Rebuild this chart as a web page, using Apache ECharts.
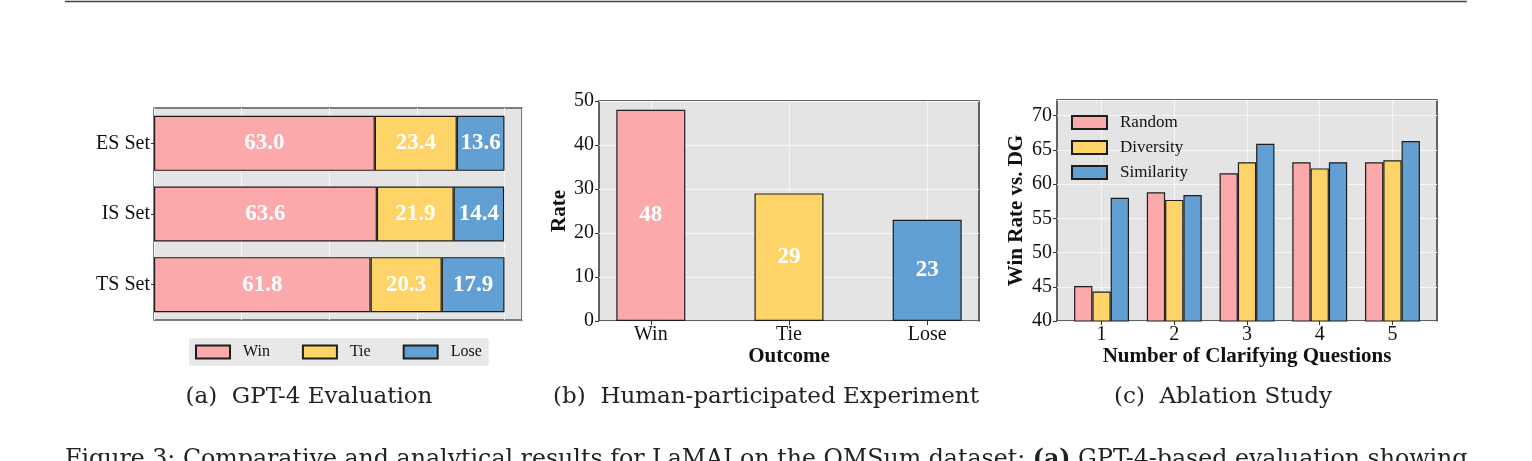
<!DOCTYPE html>
<html>
<head>
<meta charset="utf-8">
<script src="https://cdn.jsdelivr.net/npm/echarts@6/dist/echarts.min.js"></script>
<style>
  html, body { margin: 0; padding: 0; background: #fff; }
  #main { width: 1532px; height: 461px; }
</style>
</head>
<body>
<div id="main"></div>
<script type="text/javascript">
    // (a) GPT-4 evaluation
    var setNames = ['ES Set', 'IS Set', 'TS Set'];
    var winA = [63.0, 63.6, 61.8];
    var tieA = [23.4, 21.9, 20.3];
    var loseA = [13.6, 14.4, 17.9];
    // (b) human-participated experiment
    var outcomes = ['Win', 'Tie', 'Lose'];
    var humanRates = [48, 29, 23];
    // (c) ablation study
    var questionCounts = [1, 2, 3, 4, 5];
    var randomRates = [45.1, 58.8, 61.6, 63.2, 63.2];
    var diversityRates = [44.3, 57.7, 63.2, 62.3, 63.5];
    var similarityRates = [58.0, 58.4, 65.9, 63.2, 66.3];

    var PINK = '#fca9ac', YELLOW = '#fed469', BLUE = '#629fd2';
    var SERIF = '"Liberation Serif", "Times New Roman", serif';
    var CAP = '"DejaVu Serif", serif';
    var BG = '#e4e4e4';

    function pairs(xs, ys) {
        return xs.map(function (x, i) { return [x, ys[i]]; });
    }

    var tickLabel = { fontFamily: SERIF, fontSize: 20, color: '#111' };
    var nameStyle = { fontFamily: SERIF, fontSize: 21, fontWeight: 'bold', color: '#111' };
    var whiteSplit = { show: true, lineStyle: { color: '#f7f7f7', width: 1 } };
    var noLine = { show: false, onZero: false };
    var tick = { show: true, length: 4, lineStyle: { color: '#333' } };
    var barBorder = { borderColor: '#1e1e1e', borderWidth: 1.2 };
    var inLabel = { show: true, position: 'inside', color: '#fff', fontFamily: SERIF, fontWeight: 'bold', fontSize: 23 };

    function stackSeries(name, vals, color) {
        return {
            name: name, type: 'bar', stack: 'total', xAxisIndex: 0, yAxisIndex: 0,
            barWidth: 55, data: vals,
            itemStyle: Object.assign({ color: color }, barBorder),
            label: Object.assign({ formatter: function (p) { return p.value.toFixed(1); } }, inLabel)
        };
    }
    function groupSeries(name, vals, color) {
        return {
            name: name, type: 'bar', xAxisIndex: 2, yAxisIndex: 2,
            barWidth: 18.3, barGap: '0%', data: pairs(questionCounts, vals),
            itemStyle: Object.assign({ color: color }, barBorder)
        };
    }

    var chart = echarts.init(document.getElementById('main'), null, { renderer: 'canvas' });
    var option = {
        animation: false,
        grid: [
            { left: 154, top: 108, width: 368, height: 212, show: true, backgroundColor: BG, borderColor: '#555', borderWidth: 1.5 },
            { left: 599, top: 101, width: 380, height: 220, show: true, backgroundColor: BG, borderColor: '#333', borderWidth: 1.5 },
            { left: 1057, top: 100, width: 380, height: 221, show: true, backgroundColor: BG, borderColor: '#333', borderWidth: 1.5 }
        ],
        legend: [
            {
                data: outcomes, left: 189, top: 338, icon: 'rect', itemWidth: 34, itemHeight: 13, itemGap: 32,
                backgroundColor: '#e8e8e8', borderRadius: 3, padding: [6, 7, 6, 6],
                textStyle: { fontFamily: SERIF, fontSize: 16, color: '#111', padding: [0, 0, 0, 8] }
            },
            {
                data: ['Random', 'Diversity', 'Similarity'], orient: 'vertical', left: 1066, top: 109, icon: 'rect',
                itemWidth: 35, itemHeight: 13, itemGap: 8,
                textStyle: { fontFamily: SERIF, fontSize: 17, color: '#111', padding: [0, 0, 0, 8] }
            }
        ],
        xAxis: [
            {
                gridIndex: 0, type: 'value', min: 0, max: 105, interval: 25,
                axisLine: noLine, axisTick: { show: false }, axisLabel: { show: false },
                splitLine: whiteSplit
            },
            {
                gridIndex: 1, type: 'value', min: -0.375, max: 2.375,
                axisLine: noLine,
                axisTick: Object.assign({ customValues: [0, 1, 2] }, tick),
                axisLabel: Object.assign({ customValues: [0, 1, 2], margin: 4, formatter: function (v) { return outcomes[Math.round(v)]; } }, tickLabel),
                splitLine: whiteSplit,
                name: 'Outcome', nameLocation: 'middle', nameGap: 24, nameTextStyle: nameStyle
            },
            {
                gridIndex: 2, type: 'value', min: 0.3875, max: 5.6125,
                axisLine: noLine,
                axisTick: Object.assign({ customValues: questionCounts }, tick),
                axisLabel: Object.assign({ customValues: questionCounts, margin: 4, formatter: function (v) { return String(Math.round(v)); } }, tickLabel),
                splitLine: whiteSplit,
                name: 'Number of Clarifying Questions', nameLocation: 'middle', nameGap: 24, nameTextStyle: nameStyle
            }
        ],
        yAxis: [
            {
                gridIndex: 0, type: 'category', inverse: true, data: setNames,
                axisLine: noLine, axisTick: { show: true, length: 3, alignWithLabel: true, lineStyle: { color: '#333' } },
                axisLabel: Object.assign({ margin: 4 }, tickLabel),
                splitLine: { show: false }
            },
            {
                gridIndex: 1, type: 'value', min: 0, max: 50, interval: 10,
                axisLine: noLine, axisTick: tick,
                axisLabel: Object.assign({ margin: 5 }, tickLabel),
                splitLine: whiteSplit,
                name: 'Rate', nameLocation: 'middle', nameRotate: 90, nameGap: 29, nameTextStyle: nameStyle
            },
            {
                gridIndex: 2, type: 'value', min: 40, max: 72.3, interval: 5,
                axisLine: noLine, axisTick: tick,
                axisLabel: Object.assign({ margin: 5, showMaxLabel: false }, tickLabel),
                splitLine: whiteSplit,
                name: 'Win Rate vs. DG', nameLocation: 'middle', nameRotate: 90, nameGap: 30, nameTextStyle: nameStyle
            }
        ],
        series: [
            stackSeries('Win', winA, PINK),
            stackSeries('Tie', tieA, YELLOW),
            stackSeries('Lose', loseA, BLUE),
            {
                name: 'Rate', type: 'bar', xAxisIndex: 1, yAxisIndex: 1, barWidth: 69,
                data: humanRates.map(function (v, i) {
                    return { value: [i, v], itemStyle: { color: [PINK, YELLOW, BLUE][i] } };
                }),
                itemStyle: barBorder,
                label: Object.assign({ formatter: function (p) { return p.value[1]; } }, inLabel)
            },
            groupSeries('Random', randomRates, PINK),
            groupSeries('Diversity', diversityRates, YELLOW),
            groupSeries('Similarity', similarityRates, BLUE)
        ],
        graphic: [
            { type: 'line', shape: { x1: 65, y1: 1.5, x2: 1467, y2: 1.5 }, style: { stroke: '#444', lineWidth: 1.5 } },
            { type: 'text', x: 309, y: 397, style: { text: '(a)  GPT-4 Evaluation', fontFamily: CAP, fontSize: 23, fill: '#222', align: 'center', verticalAlign: 'middle' } },
            { type: 'text', x: 766, y: 397, style: { text: '(b)  Human-participated Experiment', fontFamily: CAP, fontSize: 23, fill: '#222', align: 'center', verticalAlign: 'middle' } },
            { type: 'text', x: 1223, y: 397, style: { text: '(c)  Ablation Study', fontFamily: CAP, fontSize: 23, fill: '#222', align: 'center', verticalAlign: 'middle' } },
            {
                type: 'text', x: 65, y: 448,
                style: {
                    text: 'Figure 3: Comparative and analytical results for LaMAI on the QMSum dataset: {b|(a)} GPT-4-based evaluation showing',
                    fontFamily: CAP, fontSize: 23.7, fill: '#222', align: 'left', verticalAlign: 'top',
                    rich: { b: { fontFamily: CAP, fontSize: 23.7, fontWeight: 'bold', fill: '#222' } }
                }
            }
        ]
    };
    chart.setOption(option);
</script>
</body>
</html>
